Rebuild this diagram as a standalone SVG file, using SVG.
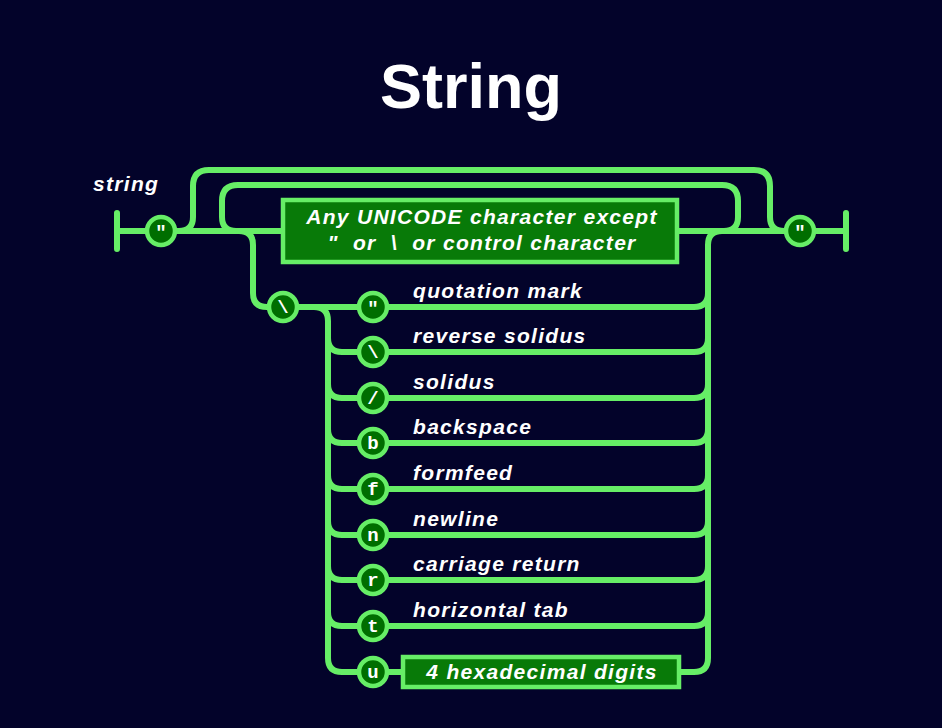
<svg xmlns="http://www.w3.org/2000/svg" width="942" height="728" viewBox="0 0 942 728">
<style>
.ln{fill:none;stroke:#66ee66;stroke-width:6;stroke-linecap:round;stroke-linejoin:round}
.bx{fill:#087a08;stroke:#66ee66;stroke-width:4.5}
.ci{fill:#006e00;stroke:#66ee66;stroke-width:4.5}
.ct{fill:#ffffff;font-family:"Liberation Mono","DejaVu Sans Mono",monospace;font-weight:bold;font-size:19px;text-anchor:middle}
.lb{fill:#ffffff;font-family:"Liberation Sans",Arial,sans-serif;font-weight:bold;font-style:italic;font-size:21px;letter-spacing:1.3px}
.bt{fill:#ffffff;font-family:"Liberation Sans",Arial,sans-serif;font-weight:bold;font-style:italic;font-size:21px;letter-spacing:1.3px;text-anchor:middle}
</style>
<rect width="942" height="728" fill="#03032a"/>
<text x="471" y="108" fill="#ffffff" font-family="'Liberation Sans',Arial,sans-serif" font-weight="bold" font-size="63" text-anchor="middle">String</text>
<text x="93" y="191" class="lb" letter-spacing="1.6">string</text>
<g id="connectors">
<path class="ln" d="M117 213 L117 249 M117 231 L145 231 M177 231 L283 231 M677 231 L784 231 M816 231 L846 231 M846 213 L846 249"/>
<path class="ln" d="M179 231 Q193 231 193 217 L193 186 Q193 170 209 170 L754 170 Q770 170 770 186 L770 217 Q770 231 784 231"/>
<path class="ln" d="M236 231 Q222 231 222 217 L222 201 Q222 185 238 185 L722 185 Q738 185 738 201 L738 217 Q738 231 724 231"/>
<path class="ln" d="M239 231 Q253 231 253 245 L253 293 Q253 307 267 307"/>
<path class="ln" d="M299 307 L357 307 M314 307 Q328 307 328 321 L328 658 Q328 672 342 672 L357 672"/>
<path class="ln" d="M722 231 Q708 231 708 245 L708 658 Q708 672 694 672 L679 672 M389 672 L403 672"/>
<path class="ln" d="M328 338 Q328 352 342 352 L357 352 M328 384 Q328 398 342 398 L357 398 M328 429 Q328 443 342 443 L357 443 M328 475 Q328 489 342 489 L357 489 M328 521 Q328 535 342 535 L357 535 M328 566 Q328 580 342 580 L357 580 M328 612 Q328 626 342 626 L357 626"/>
<path class="ln" d="M389 307 L694 307 Q708 307 708 293 M389 352 L694 352 Q708 352 708 338 M389 398 L694 398 Q708 398 708 384 M389 443 L694 443 Q708 443 708 429 M389 489 L694 489 Q708 489 708 475 M389 535 L694 535 Q708 535 708 521 M389 580 L694 580 Q708 580 708 566 M389 626 L694 626 Q708 626 708 612"/>
</g>
<g id="q-open"><circle class="ci" cx="161" cy="231" r="14"/><text class="ct" x="161" y="238">"</text></g>
<g id="q-close"><circle class="ci" cx="800" cy="231" r="14"/><text class="ct" x="800" y="238">"</text></g>
<g id="any-char"><rect class="bx" x="283" y="200" width="394" height="62"/>
<text class="bt" x="482" y="224">Any UNICODE character except</text>
<text class="bt" x="482" y="250" xml:space="preserve">"  or  \  or control character</text></g>
<g id="escape"><circle class="ci" cx="283" cy="307" r="14"/><text class="ct" x="283" y="313">\</text></g>
<g id="e-quote"><circle class="ci" cx="373" cy="307" r="14"/><text class="ct" x="373" y="314">"</text><text class="lb" x="413" y="298">quotation mark</text></g>
<g id="e-rsolidus"><circle class="ci" cx="373" cy="352" r="14"/><text class="ct" x="373" y="358">\</text><text class="lb" x="413" y="343">reverse solidus</text></g>
<g id="e-solidus"><circle class="ci" cx="373" cy="398" r="14"/><text class="ct" x="373" y="404">/</text><text class="lb" x="413" y="389">solidus</text></g>
<g id="e-b"><circle class="ci" cx="373" cy="443" r="14"/><text class="ct" x="373" y="449">b</text><text class="lb" x="413" y="434">backspace</text></g>
<g id="e-f"><circle class="ci" cx="373" cy="489" r="14"/><text class="ct" x="373" y="495">f</text><text class="lb" x="413" y="480">formfeed</text></g>
<g id="e-n"><circle class="ci" cx="373" cy="535" r="14"/><text class="ct" x="373" y="541">n</text><text class="lb" x="413" y="526">newline</text></g>
<g id="e-r"><circle class="ci" cx="373" cy="580" r="14"/><text class="ct" x="373" y="586">r</text><text class="lb" x="413" y="571">carriage return</text></g>
<g id="e-t"><circle class="ci" cx="373" cy="626" r="14"/><text class="ct" x="373" y="632">t</text><text class="lb" x="413" y="617">horizontal tab</text></g>
<g id="e-u"><circle class="ci" cx="373" cy="672" r="14"/><text class="ct" x="373" y="678">u</text></g>
<g id="hex"><rect class="bx" x="403" y="657" width="276" height="30"/><text class="bt" x="542" y="679">4 hexadecimal digits</text></g>
</svg>
